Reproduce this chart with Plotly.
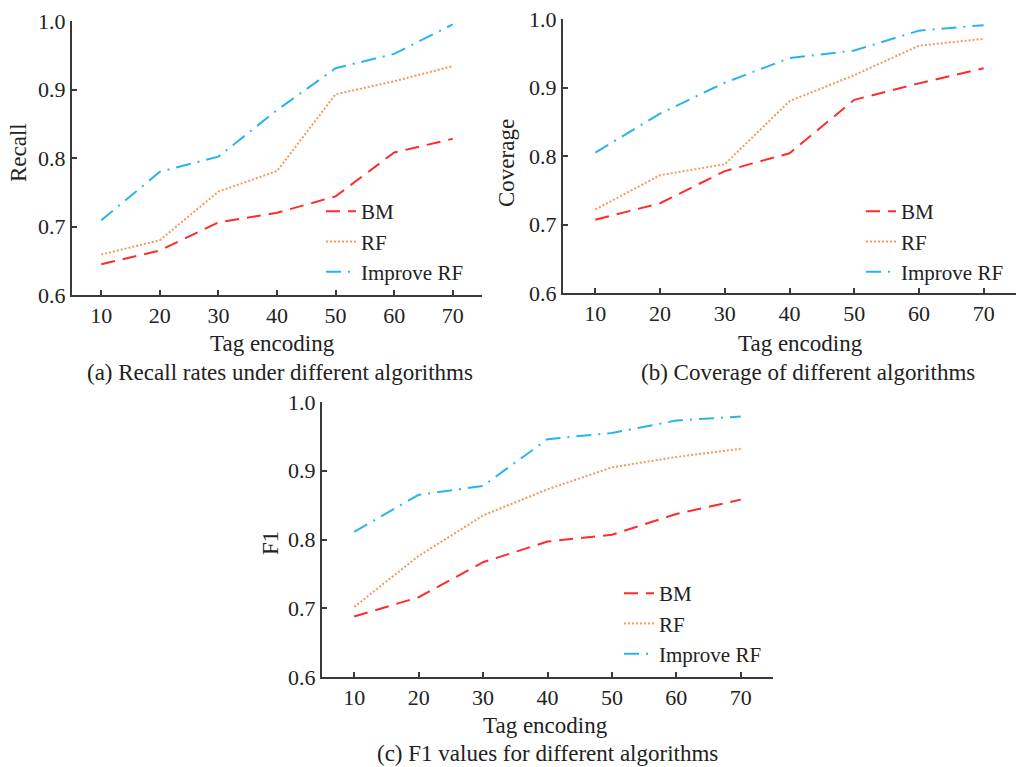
import plotly.graph_objects as go

tag_encoding = [10, 20, 30, 40, 50, 60, 70]
series_names = ["BM", "RF", "Improve RF"]

recall_bm = [0.645, 0.665, 0.706, 0.720, 0.744, 0.808, 0.828]
recall_rf = [0.659, 0.680, 0.751, 0.781, 0.893, 0.912, 0.934]
recall_irf = [0.709, 0.780, 0.802, 0.870, 0.931, 0.952, 0.995]

coverage_bm = [0.707, 0.731, 0.778, 0.804, 0.882, 0.906, 0.928]
coverage_rf = [0.722, 0.772, 0.788, 0.880, 0.918, 0.961, 0.971]
coverage_irf = [0.805, 0.862, 0.907, 0.943, 0.954, 0.983, 0.991]

f1_bm = [0.688, 0.716, 0.767, 0.797, 0.807, 0.837, 0.858]
f1_rf = [0.702, 0.776, 0.835, 0.873, 0.905, 0.920, 0.932]
f1_irf = [0.811, 0.865, 0.878, 0.946, 0.955, 0.973, 0.979]

y_ticks = [0.6, 0.7, 0.8, 0.9, 1.0]
y_tick_labels = ["0.6", "0.7", "0.8", "0.9", "1.0"]
x_ticks = [10, 20, 30, 40, 50, 60, 70, 75]
x_tick_labels = ["10", "20", "30", "40", "50", "60", "70", ""]

y_titles = ["Recall", "Coverage", "F1"]
captions = ["(a) Recall rates under different algorithms",
            "(b) Coverage of different algorithms",
            "(c) F1 values for different algorithms"]
x_title = "Tag encoding"

W, H = 1016, 767
FONT = "Liberation Serif, Times New Roman, serif"
colors = ["#ff2b2b", "#f39a5a", "#29b4ee"]
dashes = ["14px,8px", "2px,2px", "15px,7px,2px,7px"]

# panel pixel boxes: (left, right, top, bottom)
boxes = [(72, 482, 21, 295), (563, 1016, 19, 293), (322, 773, 402, 677)]

def dom_x(l, r):
    return [l / W, r / W]

def dom_y(t, b):
    return [1 - b / H, 1 - t / H]

fig = go.Figure()
data = [(recall_bm, recall_rf, recall_irf),
        (coverage_bm, coverage_rf, coverage_irf),
        (f1_bm, f1_rf, f1_irf)]

legend_pos = [(321, 191), (861, 191), (619, 573)]

for i, (vals, box) in enumerate(zip(data, boxes)):
    xa = "x" if i == 0 else f"x{i+1}"
    ya = "y" if i == 0 else f"y{i+1}"
    lg = "legend" if i == 0 else f"legend{i+1}"
    for j, v in enumerate(vals):
        fig.add_trace(go.Scatter(
            x=tag_encoding, y=v, mode="lines", name=series_names[j],
            xaxis=xa, yaxis=ya, legend=lg,
            line=dict(color=colors[j], width=2, dash=dashes[j]),
        ))
    l, r, t, b = box
    axis_common = dict(showgrid=False, zeroline=False, showline=True,
                       linecolor="#3a3a3a", linewidth=2, ticks="inside",
                       ticklen=5, tickwidth=1.5, tickcolor="#3a3a3a",
                       automargin=False,
                       tickfont=dict(family=FONT, size=22, color="#222"))
    fig.layout[f"xaxis{'' if i == 0 else i+1}"] = dict(
        domain=dom_x(l, r), anchor=ya, range=[5, 75],
        tickvals=x_ticks, ticktext=x_tick_labels, **axis_common)
    fig.layout[f"yaxis{'' if i == 0 else i+1}"] = dict(
        domain=dom_y(t, b), anchor=xa, range=[0.6, 1.0],
        tickvals=y_ticks, ticktext=y_tick_labels, **axis_common)
    lx, ly = legend_pos[i]
    fig.layout[lg] = dict(
        x=lx / W, y=1 - ly / H, xanchor="left", yanchor="top",
        bgcolor="rgba(0,0,0,0)", font=dict(family=FONT, size=21, color="#222"),
        itemwidth=30, tracegroupgap=0)

annots = [
    # (text, x, y, angle)
    (y_titles[0], 18, 153, -90), (x_title, 272, 343, 0), (captions[0], 280, 373, 0),
    (y_titles[1], 506, 163, -90), (x_title, 800, 343, 0), (captions[1], 808, 373, 0),
    (y_titles[2], 270, 543, -90), (x_title, 545, 725, 0), (captions[2], 547, 753, 0),
]
for text, x, y, ang in annots:
    fig.add_annotation(text=text, x=x / W, y=1 - y / H, xref="paper", yref="paper",
                       showarrow=False, textangle=ang, xanchor="center", yanchor="middle",
                       font=dict(family=FONT, size=23, color="#222"))

fig.update_layout(width=W, height=H,
                  margin=dict(l=0, r=0, t=0, b=0, pad=0, autoexpand=False),
                  paper_bgcolor="white", plot_bgcolor="white", showlegend=True)

fig.write_html("out.html", config={"displayModeBar": False},
               post_script="document.body.style.margin='0px';document.body.style.padding='0px';")
